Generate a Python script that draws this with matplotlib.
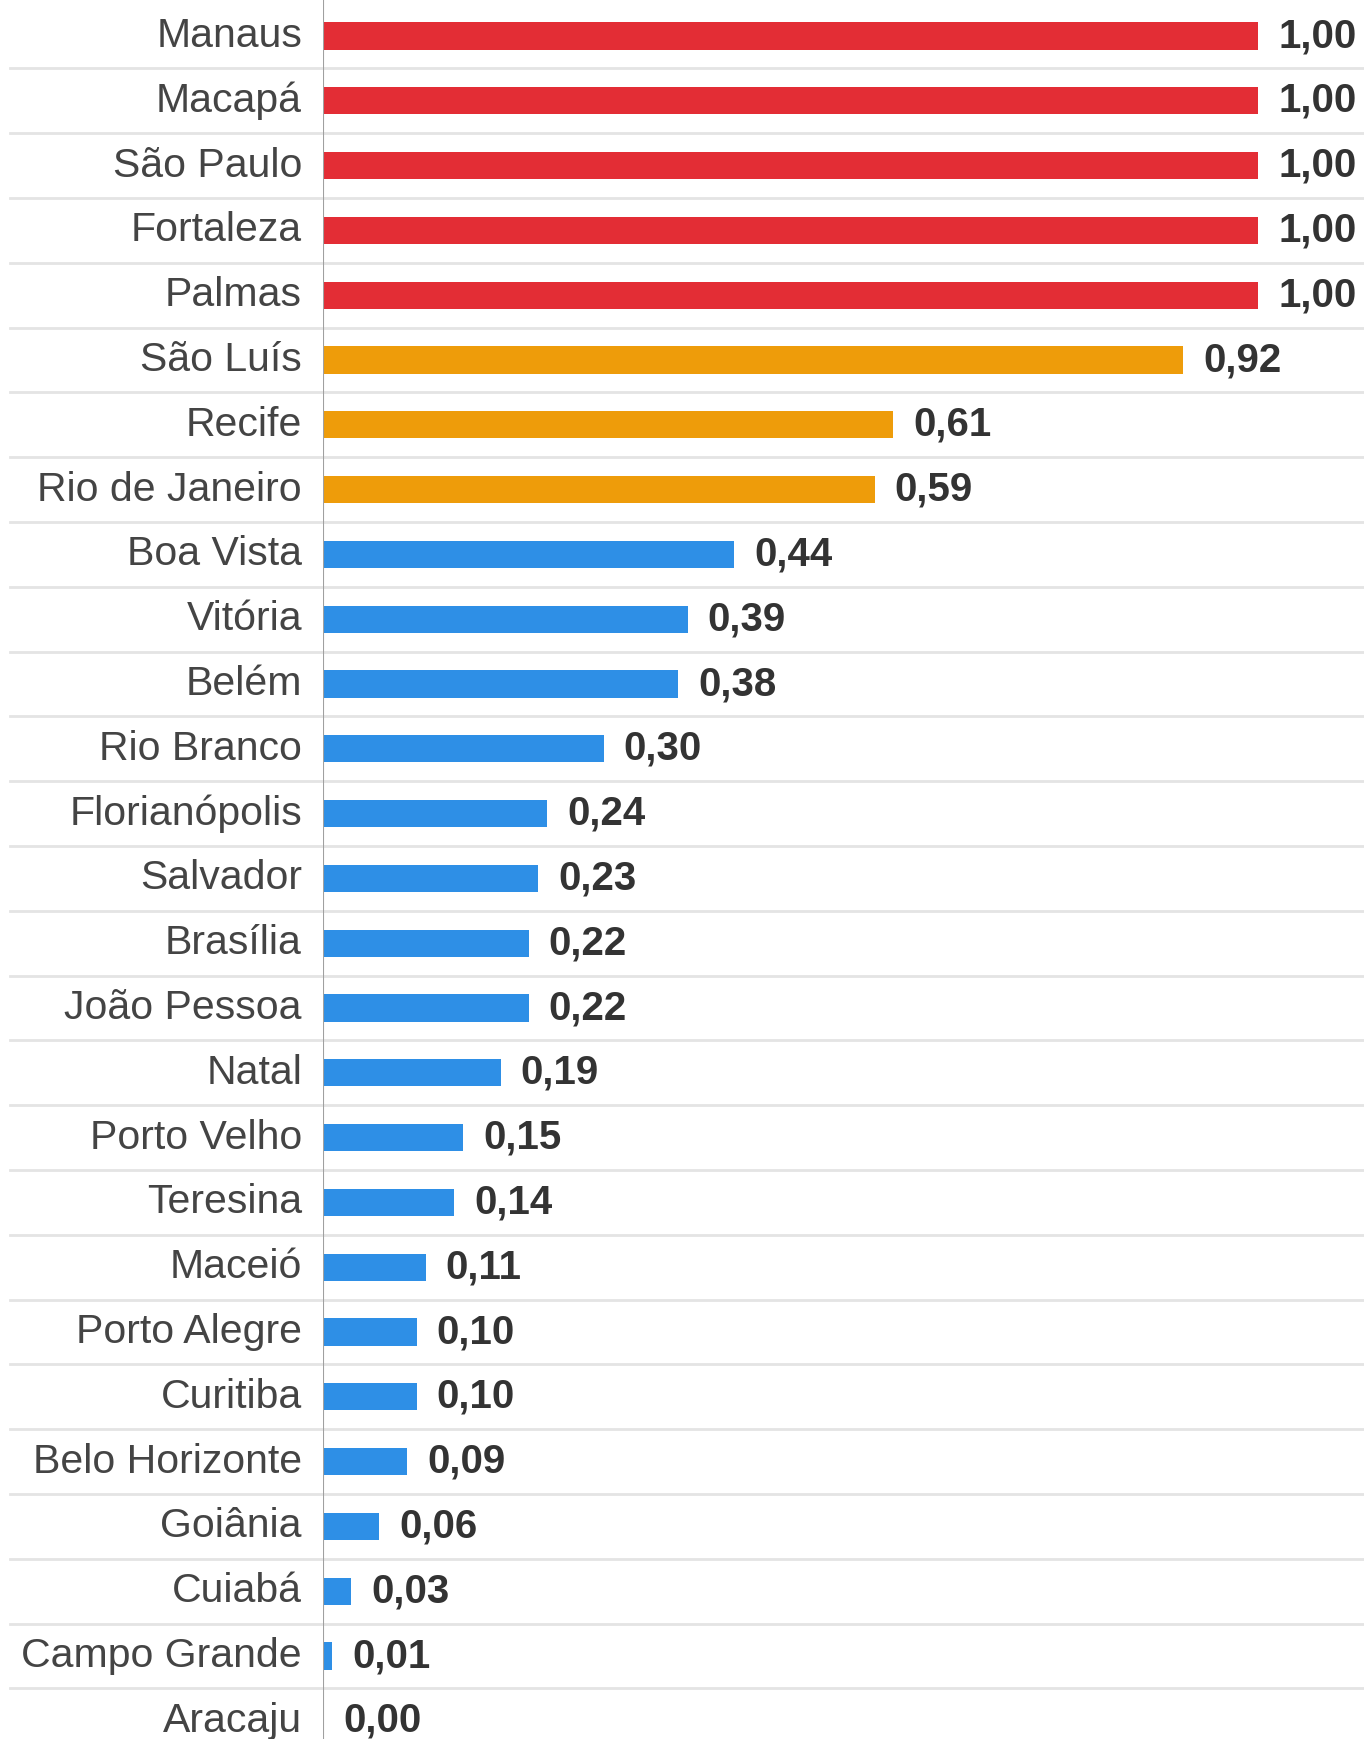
import matplotlib.pyplot as plt

plt.rcParams['font.family'] = ['Liberation Sans', 'DejaVu Sans']

CITIES = ['Manaus', 'Macapá', 'São Paulo', 'Fortaleza', 'Palmas', 'São Luís',
          'Recife', 'Rio de Janeiro', 'Boa Vista', 'Vitória', 'Belém',
          'Rio Branco', 'Florianópolis', 'Salvador', 'Brasília',
          'João Pessoa', 'Natal', 'Porto Velho', 'Teresina', 'Maceió',
          'Porto Alegre', 'Curitiba', 'Belo Horizonte', 'Goiânia', 'Cuiabá',
          'Campo Grande', 'Aracaju']
VALUES = [1.00, 1.00, 1.00, 1.00, 1.00, 0.92, 0.61, 0.59, 0.44, 0.39, 0.38,
          0.30, 0.24, 0.23, 0.22, 0.22, 0.19, 0.15, 0.14, 0.11, 0.10, 0.10,
          0.09, 0.06, 0.03, 0.01, 0.00]
LEVELS = ['alto'] * 5 + ['medio'] * 3 + ['baixo'] * 19

LEVEL_COLORS = {'alto': '#e32d35', 'medio': '#ee9c0a', 'baixo': '#2e8fe6'}


def main():
    fig_w, fig_h = 1364, 1739
    fig = plt.figure(figsize=(fig_w / 100, fig_h / 100), dpi=100)
    left = 323
    ax = fig.add_axes([left / fig_w, 0, 1 - left / fig_w, 1])

    row = 64.8
    top = 36
    n = len(CITIES)
    ypos = list(range(n))
    colors = [LEVEL_COLORS[lv] for lv in LEVELS]
    ax.barh(ypos, VALUES, height=0.42, color=colors, zorder=3)

    ax.set_ylim((fig_h - top) / row, -top / row)
    scale = (fig_w - left) / 935
    ax.set_xlim(0, scale)

    # row separators reaching into the label area
    x0 = (10 - left) / (fig_w - left)
    trans = ax.get_yaxis_transform()
    for i in range(n):
        ax.plot([x0, 1], [i + 0.5, i + 0.5], transform=trans, color='#e4e4e4',
                lw=2, clip_on=False, zorder=1)

    ax.axvline(0, color='#a0a0a0', lw=1.5, zorder=4)

    pad = 20 / 935
    for y, v in zip(ypos, VALUES):
        ax.text(v + pad, y, f'{v:.2f}'.replace('.', ','), va='center',
                ha='left', fontsize=29, fontweight='bold', color='#333333',
                clip_on=False)
    lab_x = -21 / 935
    for y, name in zip(ypos, CITIES):
        ax.text(lab_x, y, name, va='center', ha='right', fontsize=29.5,
                color='#444444', clip_on=False)

    ax.set_axis_off()
    fig.savefig('out.png', dpi=100)


if __name__ == '__main__':
    main()
